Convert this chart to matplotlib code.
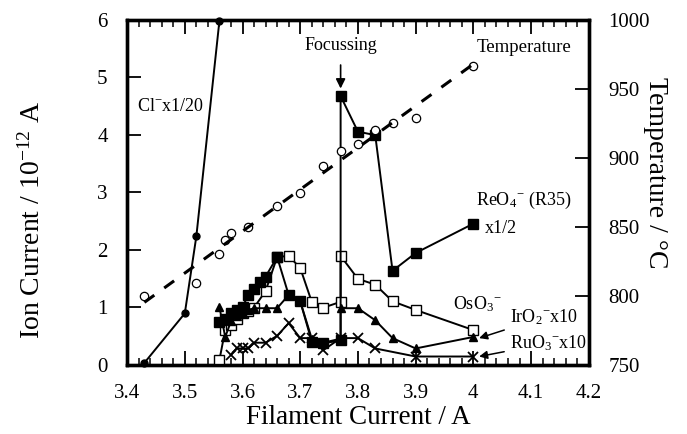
import numpy as np
import matplotlib
matplotlib.use("Agg")
import matplotlib.pyplot as plt
from matplotlib.ticker import MultipleLocator

plt.rcParams["font.family"] = ["Liberation Serif", "DejaVu Serif"]
plt.rcParams["mathtext.fontset"] = "custom"
plt.rcParams["mathtext.rm"] = "Liberation Serif"
plt.rcParams["mathtext.it"] = "Liberation Serif"

# Cl- x1/20
cl_x = [3.43, 3.50, 3.52, 3.56]
cl_y = [0.03, 0.89, 2.23, 5.98]

# ReO4- (R35) x1/2
reo4_x = [3.56, 3.57, 3.58, 3.59, 3.60, 3.61, 3.62, 3.63, 3.64, 3.66, 3.68, 3.70,
          3.72, 3.74, 3.77, 3.77, 3.80, 3.83, 3.86, 3.90, 4.00]
reo4_y = [0.74, 0.80, 0.89, 0.95, 1.00, 1.21, 1.32, 1.44, 1.53, 1.87, 1.21, 1.10,
          0.40, 0.37, 0.42, 4.67, 4.05, 3.99, 1.63, 1.94, 2.45]

# OsO3-
oso3_x = [3.56, 3.57, 3.58, 3.59, 3.60, 3.61, 3.62, 3.64, 3.66, 3.68, 3.70, 3.72,
          3.74, 3.77, 3.77, 3.80, 3.83, 3.86, 3.90, 4.00]
oso3_y = [0.08, 0.60, 0.69, 0.80, 0.89, 0.94, 0.99, 1.28, 1.87, 1.89, 1.68, 1.09,
          0.99, 1.09, 1.89, 1.49, 1.39, 1.10, 0.95, 0.60]

# IrO2- x10
iro2_x = [3.56, 3.57, 3.58, 3.59, 3.60, 3.61, 3.62, 3.64, 3.66, 3.68, 3.70, 3.72,
          3.74, 3.77, 3.77, 3.80, 3.83, 3.86, 3.90, 4.00]
iro2_y = [1.00, 0.48, 0.75, 0.85, 0.90, 0.95, 0.98, 0.98, 0.98, 1.21, 1.10, 0.45,
          0.38, 0.45, 0.98, 0.98, 0.77, 0.46, 0.28, 0.48]

# RuO3- x10
ruo3_x = [3.58, 3.59, 3.60, 3.61, 3.62, 3.64, 3.66, 3.68, 3.70, 3.72, 3.74, 3.77,
          3.80, 3.83, 3.90, 4.00]
ruo3_y = [0.17, 0.28, 0.28, 0.28, 0.38, 0.38, 0.50, 0.72, 0.46, 0.46, 0.25, 0.46,
          0.46, 0.28, 0.14, 0.14]

# Temperature (deg C)
temp_x = [3.43, 3.52, 3.56, 3.57, 3.58, 3.61, 3.66, 3.70, 3.74, 3.77, 3.80, 3.83,
          3.86, 3.90, 4.00]
temp_y = [800, 809, 830, 840, 845, 850, 865, 874, 894, 905, 910, 920, 925, 929, 966]

fig = plt.figure(figsize=(6.87, 4.34), dpi=100)
ax = fig.add_axes([0.185, 0.160, 0.672, 0.795])
ax2 = ax.twinx()

lw = 1.4
ax.plot(cl_x, cl_y, "-o", color="black", lw=lw, ms=5, clip_on=False, zorder=5)
ax.plot(reo4_x, reo4_y, "-s", color="black", mfc="black", lw=lw, ms=7, zorder=4)
ax.plot(oso3_x, oso3_y, "-s", color="black", mfc="white", lw=lw, ms=7, zorder=3)
ax.plot(iro2_x, iro2_y, "-^", color="black", mfc="black", lw=lw, ms=6, zorder=4)
ax.plot(ruo3_x, ruo3_y, "-x", color="black", lw=lw, ms=7, mew=1.3, zorder=3)

ax2.plot(temp_x, temp_y, "o", color="black", mfc="white", ms=6, mew=0.9)
coef = np.polyfit(temp_x, temp_y, 1)
fit_x = np.array([temp_x[0], temp_x[-1]])
ax2.plot(fit_x, np.polyval(coef, fit_x), color="black", lw=2.2,
         dashes=(4, 4))

ax.set_xlim(3.4, 4.2)
ax.set_ylim(0, 6)
ax2.set_ylim(750, 1000)

ax.xaxis.set_minor_locator(MultipleLocator(0.02))
ax.yaxis.set_major_locator(MultipleLocator(1))
ax2.yaxis.set_major_locator(MultipleLocator(50))
ax.set_xticks([3.4, 3.5, 3.6, 3.7, 3.8, 3.9, 4.0, 4.1, 4.2])
ax.set_xticklabels(["3.4", "3.5", "3.6", "3.7", "3.8", "3.9", "4", "4.1", "4.2"])

ax.tick_params(axis="x", which="both", direction="in", top=True, labelsize=15,
               pad=14)
ax.tick_params(axis="x", which="major", length=10, width=1.3)
ax.tick_params(axis="x", which="minor", length=5, width=1.1)
ax.tick_params(axis="y", direction="in", right=False, length=10, width=1.3,
               labelsize=15, pad=14)
ax2.tick_params(axis="y", direction="in", length=10, width=1.3, labelsize=15,
                pad=14)
for a in (ax, ax2):
    for s in a.spines.values():
        s.set_linewidth(2.4)

ax.set_xlabel("Filament Current / A", fontsize=19.5, va="center")
ax.xaxis.set_label_coords(0.5, -0.153)
ax.set_ylabel("Ion Current / 10$^{-12}$ A", fontsize=20, va="center")
ax.yaxis.set_label_coords(-0.205, 0.42)
ax2.set_ylabel("Temperature / °C", fontsize=20, rotation=270, va="center")
ax2.yaxis.set_label_coords(1.145, 0.555)

ax.text(3.418, 4.48, "Cl$^{-}$x1/20", fontsize=13, va="center", ha="left")
ax.annotate("Focussing", xy=(3.77, 4.8), xytext=(3.77, 5.55),
            fontsize=13, ha="center", va="center",
            arrowprops=dict(arrowstyle="-|>", color="black", lw=1.2,
                            mutation_scale=14, shrinkA=6, shrinkB=0))
ax.text(4.006, 5.52, "Temperature", fontsize=13.5, va="center", ha="left")
ax.text(4.004, 2.86, "ReO$_{4}$$^{-}$ (R35)", fontsize=13, va="center", ha="left")
ax.text(4.02, 2.36, "x1/2", fontsize=13, va="center", ha="left")
ax.text(3.965, 1.05, "OsO$_{3}$$^{-}$", fontsize=13, va="center", ha="left")
ax.annotate("IrO$_{2}$$^{-}$x10", xy=(4.01, 0.46), xytext=(4.063, 0.82),
            fontsize=13, va="center", ha="left",
            arrowprops=dict(arrowstyle="-|>", color="black", lw=1.1,
                            mutation_scale=12, shrinkA=2, shrinkB=0))
ax.annotate("RuO$_{3}$$^{-}$x10", xy=(4.01, 0.14), xytext=(4.063, 0.37),
            fontsize=13, va="center", ha="left",
            arrowprops=dict(arrowstyle="-|>", color="black", lw=1.1,
                            mutation_scale=12, shrinkA=2, shrinkB=0))

fig.savefig("out.png", dpi=100)
